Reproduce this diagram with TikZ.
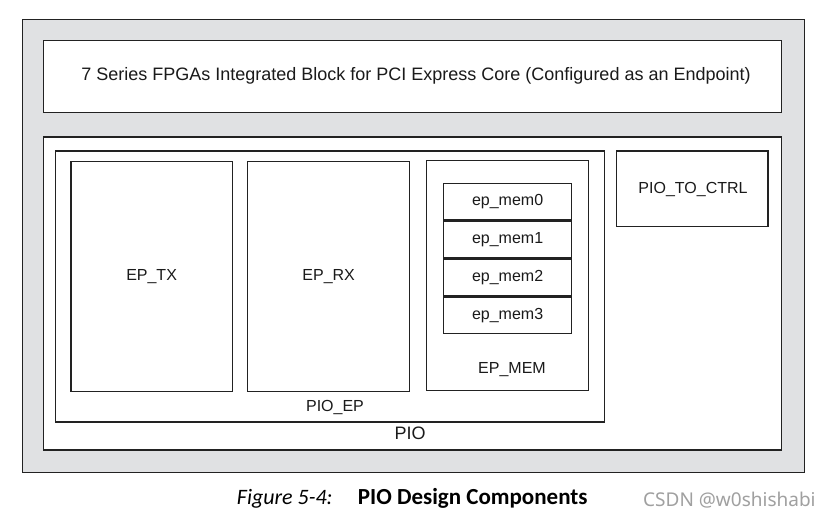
\documentclass[tikz,border=0pt]{standalone}
\usepackage{fontspec}
\setmainfont{Liberation Sans}
\newfontfamily\capfont{Carlito}
\newfontfamily\markfont{Noto Sans}
\definecolor{panelgray}{HTML}{E0E1E3}
\definecolor{edge}{HTML}{222222}
\definecolor{inkgray}{HTML}{1A1A1A}
\definecolor{markgray}{HTML}{A0A0A0}
\begin{document}
\begin{tikzpicture}[x=1pt,y=-1pt]
\tikzset{
  blk/.style={draw=edge, line width=1.3pt, fill=white, inner sep=0pt, anchor=north west},
  lbl/.style={inner sep=0pt, text=inkgray, font=\fontsize{16}{18}\selectfont},
  memblk/.style={blk, lbl, minimum width=128.3pt, minimum height=36.6pt},
}
\useasboundingbox[fill=white] (0,0) rectangle (837,520);
% enclosing panel
\node[blk, fill=panelgray, minimum width=782.5pt, minimum height=452.5pt] (outer) at (21.5,19) {};
% PCIe core block
\node[blk, minimum width=737.5pt, minimum height=72pt] (core) at (43,40) {};
\node[lbl, font=\fontsize{18}{20}\selectfont] (coretext) at (416,75.5) {7 Series FPGAs Integrated Block for PCI Express Core (Configured as an Endpoint)};
% PIO
\node[blk, minimum width=737.5pt, minimum height=313pt] (pio) at (43,136.3) {};
\node[lbl, font=\fontsize{18}{20}\selectfont] (piotext) at (410,433) {PIO};
% PIO_EP
\node[blk, minimum width=549pt, minimum height=271pt] (pioep) at (54.8,150.3) {};
\node[lbl] (pioeptext) at (335,407) {PIO\_EP};
% EP_TX / EP_RX
\node[blk, minimum width=161.5pt, minimum height=230pt] (eptx) at (70.2,160.7) {};
\node[lbl] (eptxtext) at (eptx.center) {EP\_TX};
\node[blk, minimum width=162pt, minimum height=230pt] (eprx) at (247,160.7) {};
\node[lbl] (eprxtext) at (eprx.center) {EP\_RX};
% EP_MEM with its four memories
\node[blk, minimum width=162pt, minimum height=230pt] (epmem) at (425.5,159.5) {};
\node[lbl] (epmemtext) at (512,370) {EP\_MEM};
\node[memblk] (mem0) at (442.8,182.8) {ep\_mem0};
\node[memblk, anchor=north] (mem1) at (mem0.south) {ep\_mem1};
\node[memblk, anchor=north] (mem2) at (mem1.south) {ep\_mem2};
\node[memblk, anchor=north] (mem3) at (mem2.south) {ep\_mem3};
% PIO_TO_CTRL
\node[blk, minimum width=151.5pt, minimum height=75.3pt] (ctrl) at (615.8,150.2) {};
\node[lbl] (ctrltext) at (693,189.5) {PIO\_TO\_CTRL};
% caption
\node[inner sep=0pt, anchor=base west, font=\capfont\fontsize{22}{24}\selectfont\itshape] (figno) at (236.7,504) {Figure 5-4:};
\node[inner sep=0pt, anchor=base west, font=\capfont\fontsize{23}{25}\selectfont\bfseries] (figtitle) at (357.7,504) {PIO Design Components};
\node[inner sep=0pt, anchor=base west, text=markgray, font=\markfont\fontsize{19}{21}\selectfont] (mark) at (643,506) {CSDN @w0shishabi};
\end{tikzpicture}
\end{document}
